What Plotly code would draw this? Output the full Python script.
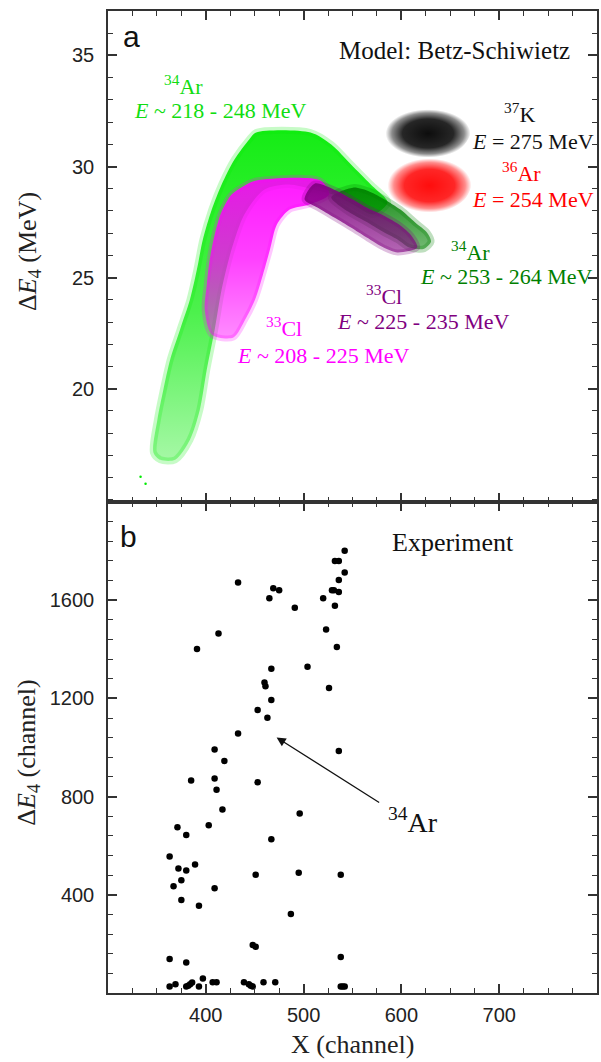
import plotly.graph_objects as go

# ---------------- data: panel (a) cloud outlines ----------------
ar34_low_x = [346.5, 350.5, 356.6, 363.6, 373.7, 383.8, 390.9, 397.0, 406.1, 416.2, 429.3, 444.4, 451.5,
              507.1, 528.3, 548.5, 568.7, 585.9, 570.7, 550.5, 530.3, 510.1, 484.8, 459.6, 439.4, 426.3,
              416.2, 409.1, 401.0, 393.9, 383.8, 368.7, 353.5]
ar34_low_y = [17.12, 18.60, 19.95, 21.31, 22.66, 24.01, 25.36, 26.71, 28.06, 29.19, 30.32, 31.22, 31.53,
              31.53, 30.99, 30.09, 29.19, 28.38, 27.84, 28.29, 28.74, 28.96, 29.19, 28.96, 27.84, 26.26,
              24.46, 22.66, 20.86, 19.05, 17.70, 16.80, 16.80]
ar34_out_x = [333.3, 338.4]
ar34_out_y = [16.04, 15.72]

ar34_high_x = [528.3, 550.5, 567.7, 582.8, 599.0, 614.1, 626.3, 630.3, 623.2, 608.1, 596.0, 580.8, 563.6, 545.5]
ar34_high_y = [28.62, 29.05, 28.87, 28.52, 28.06, 27.48, 27.02, 26.62, 26.30, 26.35, 26.71, 27.07, 27.52, 27.97]

cl33_low_x = [406.1, 398.9, 401.0, 404.0, 409.1, 416.2, 426.3, 439.4, 451.5, 517.2, 526.2, 506.0, 485.8,
              472.7, 465.6, 458.5, 450.4, 440.3, 428.2]
cl33_low_y = [22.43, 23.56, 24.68, 25.81, 26.94, 27.97, 28.74, 29.14, 29.37, 29.37, 28.74, 28.29, 28.06,
              27.39, 26.26, 25.14, 24.01, 23.11, 22.30]

cl33_high_x = [511.1, 531.3, 548.4, 564.6, 581.8, 599.0, 610.1, 616.2, 596.0, 581.8, 564.6, 548.4, 531.3, 514.1, 501.0]
cl33_high_y = [29.23, 28.96, 28.56, 28.15, 27.79, 27.34, 26.89, 26.35, 26.13, 26.35, 26.80, 27.25, 27.70, 28.15, 28.51]

ar36_x = [671.7, 664.6, 646.5, 626.3, 604.0, 590.9, 585.9, 593.0, 611.1, 628.3, 648.5, 664.6]
ar36_y = [29.19, 29.86, 30.27, 30.36, 30.27, 29.77, 29.10, 28.42, 28.02, 27.93, 28.06, 28.51]

k37_x = [670.7, 661.6, 641.4, 621.2, 601.0, 588.9, 583.8, 591.9, 611.1, 631.3, 651.5, 664.6]
k37_y = [31.53, 32.21, 32.52, 32.57, 32.48, 32.03, 31.44, 30.77, 30.45, 30.41, 30.54, 30.99]

# ---------------- data: panel (b) experiment ----------------
exp_x = [542, 532, 536, 542, 536, 433, 469, 475, 529, 531, 536, 465, 520, 491, 532, 413, 523, 391, 534, 467,
         504, 460, 461, 467, 526, 453, 463, 433, 409, 419, 536, 385, 409, 453, 411, 417, 496, 371, 403, 380,
         467, 363, 372, 380, 389, 451, 495, 538, 375, 367, 409, 375, 393, 487, 448, 451, 363, 538, 380, 363,
         369, 380, 382, 384, 386, 393, 397, 407, 411, 439, 444, 446, 448, 459, 471, 538, 540, 542]
exp_y = [1801, 1760, 1760, 1713, 1682, 1672, 1649, 1641, 1641, 1641, 1633, 1608, 1608, 1569, 1577, 1464, 1481,
         1401, 1409, 1321, 1329, 1265, 1249, 1193, 1242, 1153, 1121, 1057, 992, 945, 986, 866, 874, 858, 828,
         747, 731, 675, 683, 644, 626, 556, 507, 499, 523, 482, 490, 482, 459, 435, 427, 379, 355, 322, 196,
         188, 139, 147, 124, 26, 36, 26, 30, 36, 43, 26, 59, 44, 44, 44, 36, 30, 26, 44, 44, 26, 26, 26]

x_ticks = [400, 500, 600, 700]
ya_ticks = [20, 25, 30, 35]
yb_ticks = [400, 800, 1200, 1600]

# ---------------- figure ----------------
fig = go.Figure()


def cloud(xs, ys, rgb, grad, a_edge, edge_w, gtype='vertical'):
    fig.add_trace(go.Scatter(
        x=xs + xs[:1], y=ys + ys[:1], xaxis='x2', yaxis='y2', mode='lines', fill='toself',
        fillgradient=dict(type=gtype, colorscale=[[p, f'rgba({rgb},{a})'] for p, a in grad]),
        line=dict(color=f'rgba({rgb},{a_edge})', width=edge_w, shape='spline', smoothing=0.8),
        hoverinfo='skip', showlegend=False))


cloud(ar34_low_x, ar34_low_y, '0,235,0', [(0, 0.35), (0.45, 0.7), (1, 0.92)], 0.22, 7)
fig.add_trace(go.Scatter(x=ar34_out_x, y=ar34_out_y, xaxis='x2', yaxis='y2', mode='markers',
                         marker=dict(size=2.5, color='rgb(0,235,0)'), showlegend=False, hoverinfo='skip'))
cloud(ar34_high_x, ar34_high_y, '0,128,0', [(0, 0.55), (1, 0.9)], 0.25, 7)
cloud(cl33_low_x, cl33_low_y, '255,0,255', [(0, 0.45), (0.5, 0.75), (1, 0.9)], 0.22, 6)
cloud(cl33_high_x, cl33_high_y, '128,0,128', [(0, 0.6), (1, 0.9)], 0.25, 6)
cloud(ar36_x, ar36_y, '255,0,0', [(0, 0.95), (0.6, 0.85), (0.85, 0.45), (1, 0.0)], 0.0, 0, gtype='radial')
cloud(k37_x, k37_y, '0,0,0', [(0, 0.95), (0.6, 0.85), (0.85, 0.45), (1, 0.0)], 0.0, 0, gtype='radial')

fig.add_trace(go.Scatter(x=exp_x, y=exp_y, mode='markers', xaxis='x', yaxis='y',
                         marker=dict(size=6.5, color='black'), showlegend=False))

ax_common = dict(showline=True, linecolor='#333', linewidth=1.5, mirror='ticks', ticks='inside',
                 ticklen=9, tickwidth=1.5, tickcolor='#333', showgrid=False, zeroline=False,
                 tickfont=dict(family='Liberation Sans, Arial, sans-serif', size=20, color='#222'))
minor_common = dict(ticks='inside', ticklen=5, tickwidth=1.3, tickcolor='#333', tickmode='linear')

fig.update_layout(
    width=601, height=1062, margin=dict(l=108, r=2, t=11, b=69),
    paper_bgcolor='white', plot_bgcolor='white', showlegend=False,
    xaxis=dict(ax_common, domain=[0, 1], anchor='y', range=[300, 800], tickmode='array', tickvals=x_ticks,
               ticklabelstandoff=3, minor=dict(minor_common, tick0=300, dtick=25)),
    yaxis=dict(ax_common, domain=[0, 0.5], anchor='x', range=[0, 2000], tickmode='array', tickvals=yb_ticks,
               ticklabelstandoff=8, minor=dict(minor_common, tick0=0, dtick=80)),
    xaxis2=dict(ax_common, domain=[0, 1], anchor='y2', range=[300, 800], tickmode='array', tickvals=x_ticks,
                showticklabels=False, minor=dict(minor_common, tick0=300, dtick=25)),
    yaxis2=dict(ax_common, domain=[0.5, 1], anchor='x2', range=[14.9, 37.0], tickmode='array',
                tickvals=ya_ticks, ticklabelstandoff=8, minor=dict(minor_common, tick0=0, dtick=1)),
)

SERIF = 'Liberation Serif, Times New Roman, serif'
SANS = 'Liberation Sans, Arial, sans-serif'


def note(text, x, y, color, size, xref='x2', yref='y2', family=SERIF, **kw):
    fig.add_annotation(text=text, x=x, y=y, xref=xref, yref=yref, showarrow=False,
                       font=dict(family=family, size=size, color=color), xanchor='center', yanchor='middle', **kw)


# panel a
note('a', 324.2, 35.86, '#111', 30, family=SANS)
note('Model: Betz-Schiwietz', 654.5, 35.23, '#111', 25)
note('<sup>37</sup>K', 721.2, 32.39, '#111', 22)
note('<i>E</i> = 275 MeV', 734.3, 31.13, '#111', 22)
note('<sup>36</sup>Ar', 723.2, 29.77, '#ff0000', 22)
note('<i>E</i> = 254 MeV', 734.3, 28.51, '#ff0000', 22)
note('<sup>34</sup>Ar', 670.7, 26.22, '#008000', 22)
note('<i>E</i> ~ 253 - 264 MeV', 707.1, 25.05, '#008000', 22)
note('<sup>33</sup>Cl', 581.8, 24.23, '#800080', 22)
note('<i>E</i> ~ 225 - 235 MeV', 622.2, 23.04, '#800080', 22)
note('<sup>33</sup>Cl', 479.8, 22.79, '#ff00ff', 22)
note('<i>E</i> ~ 208 - 225 MeV', 520.2, 21.49, '#ff00ff', 22)
note('<sup>34</sup>Ar', 376.8, 33.69, '#11dd11', 22)
note('<i>E</i> ~ 218 - 248 MeV', 415.2, 32.52, '#11dd11', 22)

# panel b
note('b', 321.2, 1858, '#111', 30, xref='x', yref='y', family=SANS)
note('Experiment', 652.5, 1835, '#111', 26, xref='x', yref='y')
note('<sup>34</sup>Ar', 612.1, 702, '#111', 28, xref='x', yref='y')
fig.add_annotation(x=472.4, y=1041, ax=578.8, ay=772, xref='x', yref='y', axref='x', ayref='y',
                   showarrow=True, arrowhead=2, arrowsize=1.4, arrowwidth=1.3, arrowcolor='#111', text='')

# axis titles
note('Δ<i>E</i><sub>4</sub> (MeV)', -0.163, 0.755, '#222', 26, xref='paper', yref='paper', textangle=-90)
note('Δ<i>E</i><sub>4</sub> (channel)', -0.163, 0.245, '#222', 26, xref='paper', yref='paper', textangle=-90)
note('X (channel)', 0.5, -0.0525, '#222', 26, xref='paper', yref='paper')

fig.write_html('out.html', config={'displayModeBar': False},
               post_script="document.body.style.margin='0';document.body.style.overflow='hidden';")
